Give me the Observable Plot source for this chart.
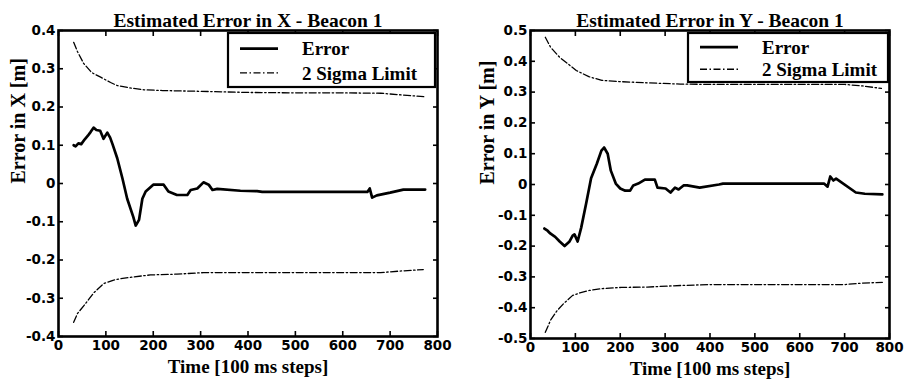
<!DOCTYPE html>
<html>
<head>
<meta charset="utf-8">
<script src="https://cdn.jsdelivr.net/npm/d3@7"></script>
<script src="https://cdn.jsdelivr.net/npm/@observablehq/plot@0.6"></script>
<style>
  body { margin: 0; background: #fff; }
  #wrap { display: flex; width: 904px; height: 392px; }
</style>
</head>
<body>
<div id="wrap"></div>
<script>
// ---- Data ----
const xTicks = [0, 100, 200, 300, 400, 500, 600, 700, 800];
const yTicksX = [-0.4, -0.3, -0.2, -0.1, 0, 0.1, 0.2, 0.3, 0.4];
const yTicksY = [-0.5, -0.4, -0.3, -0.2, -0.1, 0, 0.1, 0.2, 0.3, 0.4, 0.5];

// Estimated error in X
const errXTime = [32,36,42,48,55,62,68,74,80,88,95,103,109,114,124,135,145,158,163,170,177,184,200,222,232,250,272,279,293,306,317,325,335,384,419,430,560,652,657,662,672,700,728,774];
const errXVal  = [0.10,0.097,0.105,0.103,0.115,0.125,0.135,0.146,0.14,0.138,0.117,0.133,0.12,0.103,0.066,0.013,-0.04,-0.088,-0.11,-0.095,-0.04,-0.021,-0.003,-0.003,-0.021,-0.03,-0.03,-0.017,-0.013,0.003,-0.003,-0.017,-0.014,-0.019,-0.02,-0.022,-0.022,-0.022,-0.013,-0.037,-0.031,-0.024,-0.016,-0.016];
const sigXUpTime = [32,40,53,70,89,110,124,150,180,220,300,400,500,600,680,720,771];
const sigXUpVal  = [0.369,0.345,0.314,0.29,0.278,0.264,0.256,0.25,0.245,0.243,0.241,0.238,0.237,0.237,0.236,0.232,0.227];
const sigXLoTime = [32,40,57,75,95,115,131,160,194,250,306,400,500,600,680,720,770];
const sigXLoVal  = [-0.363,-0.34,-0.314,-0.285,-0.262,-0.253,-0.249,-0.244,-0.239,-0.237,-0.233,-0.233,-0.233,-0.233,-0.233,-0.229,-0.225];

// Estimated error in Y
const errYTime = [31,38,44,55,65,76,87,94,98,105,113,124,135,148,158,164,172,179,190,200,211,222,229,240,255,277,283,301,312,322,330,341,349,377,420,429,654,662,668,675,681,725,745,784];
const errYVal  = [-0.143,-0.15,-0.159,-0.17,-0.185,-0.2,-0.185,-0.166,-0.162,-0.185,-0.14,-0.062,0.02,0.068,0.11,0.12,0.1,0.045,0.003,-0.013,-0.02,-0.02,-0.003,0.003,0.016,0.016,-0.01,-0.013,-0.026,-0.01,-0.016,-0.003,-0.003,-0.01,0,0.003,0.003,-0.007,0.026,0.013,0.019,-0.026,-0.03,-0.032];
const sigYUpTime = [33,45,65,85,102,130,159,200,261,334,400,500,600,700,740,782];
const sigYUpVal  = [0.478,0.445,0.413,0.39,0.37,0.35,0.338,0.334,0.33,0.326,0.325,0.325,0.325,0.325,0.32,0.312];
const sigYLoTime = [33,45,59,75,94,110,131,160,203,260,334,400,500,600,700,740,784];
const sigYLoVal  = [-0.48,-0.44,-0.41,-0.385,-0.36,-0.352,-0.344,-0.338,-0.334,-0.333,-0.328,-0.325,-0.325,-0.325,-0.325,-0.32,-0.318];

const legendLabels = ["Error", "2 Sigma Limit"];

// ---- helpers ----
const zip = (t, v) => t.map((d, i) => ({t: d, v: v[i]}));
const fmt = d => Math.abs(d) < 1e-9 ? "0" : d.toFixed(1);
const serif = "'Liberation Serif', 'Times New Roman', serif";
const sans = "'DejaVu Sans', Arial, sans-serif";
const DASH = "7,2.5,1.5,2.5";

function chart({title, ytitle, yDomain, yTicks, err, up, lo, ml, mr, mb, ydx, box}) {
  const W = 452, H = 392, mt = 30;
  const p = Plot.plot({
    width: W, height: H,
    marginLeft: ml, marginRight: mr, marginTop: mt, marginBottom: mb,
    style: {fontFamily: sans, fontWeight: "bold", fontSize: "13.5px", color: "#000", background: "#fff", overflow: "visible"},
    x: {domain: [0, 800]},
    y: {domain: yDomain},
    marks: [
      Plot.line(up, {x: "t", y: "v", stroke: "#000", strokeWidth: 1.3, strokeDasharray: DASH}),
      Plot.line(lo, {x: "t", y: "v", stroke: "#000", strokeWidth: 1.3, strokeDasharray: DASH}),
      Plot.line(err, {x: "t", y: "v", stroke: "#000", strokeWidth: 2.7, curve: "linear"}),
      Plot.axisX(xTicks, {anchor: "bottom", tickSize: 0, tickPadding: 4, tickFormat: d => String(d), fontSize: 13.5, fontWeight: "bold", label: null}),
      Plot.axisX(xTicks, {anchor: "bottom", tickSize: -5, strokeWidth: 1.6, tickFormat: () => "", label: null}),
      Plot.axisX(xTicks, {anchor: "top", tickSize: -5, strokeWidth: 1.6, tickFormat: () => "", label: null}),
      Plot.axisY(yTicks, {anchor: "left", tickSize: 0, tickPadding: 3, tickFormat: fmt, fontSize: 13.5, fontWeight: "bold", label: null}),
      Plot.axisY(yTicks, {anchor: "left", tickSize: -5, strokeWidth: 1.6, tickFormat: () => "", label: null}),
      Plot.axisY(yTicks, {anchor: "right", tickSize: -5, strokeWidth: 1.6, tickFormat: () => "", label: null}),
      Plot.frame({stroke: "#000", strokeWidth: 2.6}),
      Plot.text([title], {frameAnchor: "top", dy: -17, fontFamily: serif, fontWeight: "bold", fontSize: 19.5}),
      Plot.text(["Time [100 ms steps]"], {frameAnchor: "bottom", dy: 36, fontFamily: serif, fontWeight: "bold", fontSize: 19}),
      Plot.text([ytitle], {frameAnchor: "left", dx: ydx, rotate: -90, fontFamily: serif, fontWeight: "bold", fontSize: 20})
    ]
  });
  // legend box (top-right inside frame)
  const svg = d3.select(p);
  const right = W - mr, top = mt;
  const g = svg.append("g").attr("transform", `translate(${right - box.w - box.r},${top + 3})`);
  g.append("rect").attr("width", box.w).attr("height", box.h)
    .attr("fill", "#fff").attr("stroke", "#000").attr("stroke-width", 2.2);
  const rows = [{y: box.h * 0.29, dash: null, sw: 2.7}, {y: box.h * 0.74, dash: DASH, sw: 1.3}];
  rows.forEach((r, i) => {
    g.append("line").attr("x1", 12).attr("x2", 50).attr("y1", r.y).attr("y2", r.y)
      .attr("stroke", "#000").attr("stroke-width", r.sw).attr("stroke-dasharray", r.dash);
    g.append("text").attr("x", 74).attr("y", r.y).attr("dy", "0.35em")
      .attr("text-anchor", "start")
      .attr("font-family", serif).attr("font-weight", "bold").attr("font-size", 19)
      .text(legendLabels[i]);
  });
  return p;
}

const wrap = document.getElementById("wrap");
wrap.appendChild(chart({
  title: "Estimated Error in X - Beacon 1", ytitle: "Error in X [m]",
  yDomain: [-0.4, 0.4], yTicks: yTicksX,
  err: zip(errXTime, errXVal), up: zip(sigXUpTime, sigXUpVal), lo: zip(sigXLoTime, sigXLoVal),
  ml: 58, mr: 15, mb: 56, ydx: -40, box: {w: 207, h: 54, r: 2}
}));
wrap.appendChild(chart({
  title: "Estimated Error in Y - Beacon 1", ytitle: "Error in Y [m]",
  yDomain: [-0.5, 0.5], yTicks: yTicksY,
  err: zip(errYTime, errYVal), up: zip(sigYUpTime, sigYUpVal), lo: zip(sigYLoTime, sigYLoVal),
  ml: 78, mr: 15, mb: 54, ydx: -43, box: {w: 200, h: 49, r: 1}
}));
</script>
</body>
</html>
